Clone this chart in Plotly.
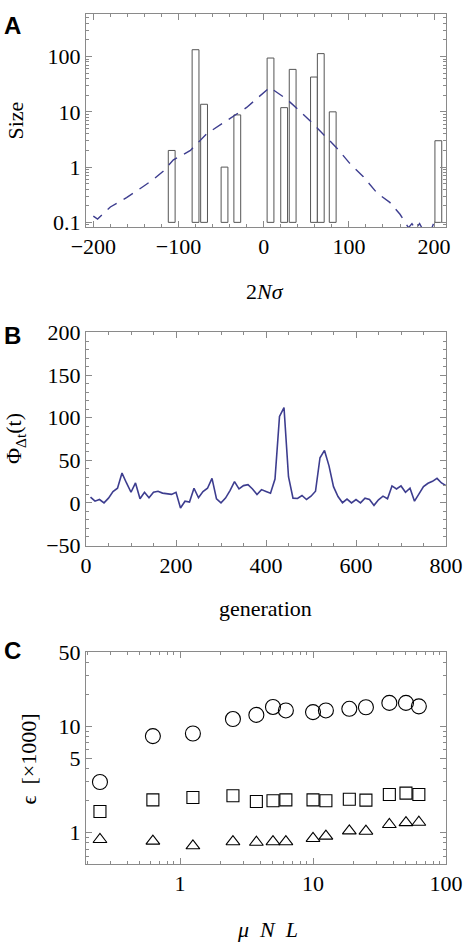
import plotly.graph_objects as go

# ---------------- Panel A data ----------------
bar_sigma = [-108, -80, -70, -46, -31, 8, 24, 34, 59, 67, 81, 205]
bar_size = [2, 133, 13.7, 1, 8.8, 94, 11.9, 58.6, 42.6, 113, 10, 3]
curve_sigma = [-200, -195, -180, -161, -141, -130, -118, -106, -86, -67, -43, -20, 7, 27,
               54, 86, 101, 117, 133, 148, 160, 166, 170, 174, 178, 183, 190, 196, 200]
curve_size = [0.13, 0.115, 0.19, 0.28, 0.45, 0.59, 0.84, 1.35, 2.0, 4.0, 7.0, 12, 27.6, 17,
              7, 2.2, 1.17, 0.67, 0.34, 0.23, 0.14, 0.1, 0.08, 0.095, 0.075, 0.095, 0.06, 0.07, 0.1]

# ---------------- Panel B data ----------------
generation = [10, 20, 30, 40, 50, 60, 70, 80, 90, 100, 110, 120, 130, 140, 150, 160, 170, 180,
              190, 200, 210, 220, 230, 240, 250, 260, 270, 280, 290, 300, 310, 320, 330, 340,
              350, 360, 370, 380, 390, 400, 410, 420, 430, 440, 450, 460, 470, 480, 490, 500,
              510, 520, 530, 540, 550, 560, 570, 580, 590, 600, 610, 620, 630, 640, 650, 660,
              670, 680, 690, 700, 710, 720, 730, 740, 750, 760, 770, 780, 790, 800]
phi = [6.8, 2, 4, 0, 5.6, 13.3, 17.2, 35, 23.4, 12.5, 23.4, 4.8, 12.5, 6, 12.5, 13.7, 11.5, 10.5,
       10, 12.5, -6, 2, 1, 17.2, 6, 13.3, 17.2, 28.8, 4.8, 0, 5.6, 14.5, 25, 16.4,
       20.3, 21.4, 16.4, 9.9, 15.6, 13.5, 11.4, 28, 101.4, 111.9, 30.7, 5.6, 5.2, 8.7, 4, 7.9,
       13.7, 53, 61.6, 43.5, 19.1, 7.5, 0.2, 4.4, 0, 4, 0, 5.6, 4, -2.9, 3.7, 7.9,
       4.8, 19.9, 16.4, 19.9, 12.5, 17.2, 2, 10.6, 19.1, 23, 25.3, 28.8, 23.4, 20.3]

# ---------------- Panel C data ----------------
muNL = [0.25, 0.625, 1.25, 2.5, 3.75, 5, 6.25, 10, 12.5, 18.75, 25, 37.5, 50, 62.5]
eps_circle = [2.99, 8.08, 8.55, 11.7, 12.8, 15.2, 14.1, 13.6, 14.1, 14.6, 15.1, 16.6, 16.6, 15.4]
eps_square = [1.58, 2.03, 2.14, 2.22, 1.96, 1.99, 2.03, 2.03, 1.99, 2.06, 2.02, 2.28, 2.35, 2.28]
eps_triangle = [0.86, 0.83, 0.75, 0.82, 0.81, 0.82, 0.82, 0.88, 0.925, 1.036, 1.03, 1.19, 1.24, 1.25]

# tick definitions
a_yticks = [0.1, 1, 10, 100]
a_yticktext = ["0.1", "1", "10", "100"]
c_xticks = [1, 10, 100]
c_yticks = [1, 5, 10, 50]
c_xminor = [0.2, 0.3, 0.4, 0.5, 0.6, 0.7, 0.8, 0.9, 2, 3, 4, 5, 6, 7, 8, 9,
            20, 30, 40, 50, 60, 70, 80, 90]
c_yminor = [0.6, 0.7, 0.8, 0.9, 2, 3, 4, 6, 7, 8, 9, 20, 30, 40]

LINE_BLUE = "#3d3d8f"
FRAME = "#8a8a8a"
SERIF = "Liberation Serif"

fig = go.Figure()

# Panel A
fig.add_trace(go.Bar(x=bar_sigma, y=[s - 0.1 for s in bar_size], base=0.1, width=8,
                     marker=dict(color="white", line=dict(color="#555555", width=1)),
                     xaxis="x", yaxis="y"))
fig.add_trace(go.Scatter(x=curve_sigma, y=curve_size, mode="lines",
                         line=dict(color=LINE_BLUE, width=1.4, dash="11px,8px"),
                         xaxis="x", yaxis="y"))

# Panel B
fig.add_trace(go.Scatter(x=generation, y=phi, mode="lines",
                         line=dict(color=LINE_BLUE, width=1.6),
                         xaxis="x2", yaxis="y2"))

# Panel C
for vals, sym, sz in [(eps_circle, "circle-open", 15),
                      (eps_square, "square-open", 12),
                      (eps_triangle, "triangle-up-open", 12)]:
    fig.add_trace(go.Scatter(x=muNL, y=vals, mode="markers",
                             marker=dict(symbol=sym, size=sz, color="black",
                                         line=dict(color="black", width=1.1)),
                             xaxis="x3", yaxis="y3"))

common = dict(showline=True, linecolor=FRAME, linewidth=1, mirror="allticks",
              ticks="inside", ticklen=6, tickcolor=FRAME, tickwidth=1,
              showgrid=False, zeroline=False,
              tickfont=dict(family=SERIF, size=22, color="black"))
minor = dict(ticks="inside", ticklen=3, tickcolor=FRAME, tickwidth=1, showgrid=False)

fig.update_layout(
    width=465, height=943,
    margin=dict(l=86, r=19, t=2, b=79),
    showlegend=False,
    plot_bgcolor="white", paper_bgcolor="white",
    xaxis=dict(domain=[0, 1], anchor="y", range=[-208.6, 214], tickmode="linear",
               tick0=-200, dtick=100, minor=dict(minor, dtick=20), **common),
    yaxis=dict(domain=[0.7494, 1.0], anchor="x", type="log", range=[-1.084, 2.77],
               tickvals=a_yticks, ticktext=a_yticktext, minor=dict(minor, dtick="D1"),
               **common),
    xaxis2=dict(domain=[0, 1], anchor="y2", range=[0, 800], tickmode="linear",
                tick0=0, dtick=200, minor=dict(minor, dtick=50), **common),
    yaxis2=dict(domain=[0.3747, 0.6253], anchor="x2", range=[-50, 200], tickmode="linear",
                tick0=-50, dtick=50, minor=dict(minor, dtick=10), **common),
    xaxis3=dict(domain=[0, 1], anchor="y3", type="log", range=[-0.707, 2],
                tickvals=c_xticks, ticktext=[str(v) for v in c_xticks],
                minor=dict(minor, tickvals=c_xminor), **common),
    yaxis3=dict(domain=[0, 0.2494], anchor="x3", type="log", range=[-0.296, 1.699],
                tickvals=c_yticks, ticktext=[str(v) for v in c_yticks],
                minor=dict(minor, tickvals=c_yminor), **common),
)

def px_x(px):
    return (px - 86) / 360.0

def px_y(py):
    return (864 - py) / 862.0

annots = [
    ("<b>A</b>", 12, 14, 0, dict(family="Liberation Sans", size=24)),
    ("<b>B</b>", 12, 328, 0, dict(family="Liberation Sans", size=24)),
    ("<b>C</b>", 12, 647, 0, dict(family="Liberation Sans", size=24)),
    ("Size", 15, 110, -90, dict(family=SERIF, size=22)),
    ("2<i>N</i><i>σ</i>", 265, 283, 0, dict(family=SERIF, size=22)),
    ("Φ<sub>Δt</sub>(t)", 15, 433, -90, dict(family=SERIF, size=22)),
    ("generation", 265, 605, 0, dict(family=SERIF, size=22)),
    ("ϵ  [×1000]", 28, 757, -90, dict(family=SERIF, size=22)),
    ("<i>μ</i>  <i>N</i>  <i>L</i>", 267, 930, 0, dict(family=SERIF, size=22)),
]
for text, x, y, ang, font in annots:
    fig.add_annotation(text=text, xref="paper", yref="paper", x=px_x(x), y=px_y(y),
                       xanchor="center", yanchor="middle", showarrow=False,
                       textangle=ang, font=dict(font, color="black"))

fig.write_html("out.html", config={"displayModeBar": False},
               post_script="document.body.style.margin='0';document.body.style.padding='0';")
